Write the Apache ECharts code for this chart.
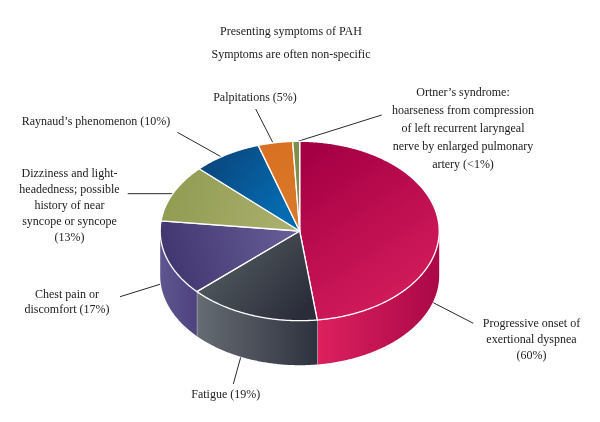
<!DOCTYPE html>
<html>
<head>
<meta charset="utf-8">
<style>html,body{margin:0;padding:0;background:#fff}#c{width:600px;height:422px}</style>
<script src="https://cdn.jsdelivr.net/npm/echarts@6/dist/echarts.min.js"></script>
</head>
<body>
<div id="c"></div>
<script>
const symptoms = [
  "Progressive onset of\nexertional dyspnea\n(60%)",
  "Fatigue (19%)",
  "Chest pain or\ndiscomfort (17%)",
  "Dizziness and light-\nheadedness; possible\nhistory of near\nsyncope or syncope\n(13%)",
  "Raynaud\u2019s phenomenon (10%)",
  "Palpitations (5%)",
  "Ortner\u2019s syndrome:\nhoarseness from compression\nof left recurrent laryngeal\nnerve by enlarged pulmonary\nartery (<1%)"
];
const values = [60, 19, 17, 13, 10, 5, 1];
const titleLines = ["Presenting symptoms of PAH", "Symptoms are often non-specific"];

// Styling and layout, kept apart from the data
const FONT = '12px "Liberation Serif", serif';
const TEXT = '#1e1a1c';
const PIE = {cx: 299.7, cy: 231, rx: 139.5, ry: 89.7, depth: 44.5};
const topFill = [
  [0.15, 0.05, 0.9, 0.95, '#a60044', '#d81f5e'],
  [0.1, 0.1, 0.85, 0.95, '#575f64', '#2a2d39'],
  [0.05, 0.8, 0.95, 0.25, '#40356f', '#675d96'],
  [0, 0.1, 1, 0.7, '#8f9a50', '#abb06e'],
  [0, 0.1, 0.8, 0.8, '#0a4278', '#056bb0'],
  [0, 0, 1, 1, '#d87020', '#db7a2c'],
  [0, 0, 1, 1, '#7f8e4c', '#7f8e4c']
];
const wallFill = [
  [0, 0, 1, 0, '#de205e', '#aa0848'],
  [0, 0, 1, 0, '#666c73', '#2e323e'],
  [0, 0, 1, 0, '#5f568f', '#4d427e']
];
const labelPos = [
  {x: 531.5, y: 324, lh: 15.8},
  {x: 225.7, y: 395, lh: 16},
  {x: 67, y: 295, lh: 15},
  {x: 69.5, y: 174, lh: 16},
  {x: 96, y: 121.7, lh: 16},
  {x: 255, y: 98, lh: 16},
  {x: 463, y: 92.5, lh: 18.2}
];
const leaders = [
  [473.3, 323.3, 433.3, 302.7],
  [233.3, 384, 240.7, 357.3],
  [120, 296.7, 160, 284.3],
  [127.7, 193.7, 173, 193.7],
  [177.3, 132.3, 221, 156.7],
  [255.7, 109, 272.7, 142.3],
  [381.7, 115, 296.7, 141.7]
];

const total = values.reduce((a, b) => a + b, 0);
const starts = [];
values.reduce((acc, v, i) => { starts[i] = acc; return acc + v; }, 0);
const toAngle = v => v / total * Math.PI * 2;
const pt = (t, dy) => [PIE.cx + PIE.rx * Math.sin(t), PIE.cy - PIE.ry * Math.cos(t) + (dy || 0)];
function arc(t0, t1, dy) {
  const n = Math.max(2, Math.ceil(Math.abs(t1 - t0) / 0.01));
  const out = [];
  for (let k = 0; k <= n; k++) out.push(pt(t0 + (t1 - t0) * k / n, dy));
  return out;
}
const grad = g => new echarts.graphic.LinearGradient(g[0], g[1], g[2], g[3],
  [{offset: 0, color: g[4]}, {offset: 1, color: g[5]}]);

function renderWall(params, api) {
  const i = params.dataIndex;
  const t0 = Math.max(toAngle(starts[i]), Math.PI / 2);
  const t1 = Math.min(toAngle(starts[i] + api.value(0)), Math.PI * 1.5);
  if (t1 <= t0) return null;
  const top = arc(t0, t1, 0), bottom = arc(t1, t0, PIE.depth);
  const children = [{
    type: 'polygon', shape: {points: top.concat(bottom)},
    style: {fill: grad(wallFill[i]), stroke: null}
  }];
  if (t1 < Math.PI * 1.5) {
    const a = pt(t1, 0), b = pt(t1, PIE.depth);
    children.push({type: 'line', shape: {x1: a[0], y1: a[1], x2: b[0], y2: b[1]},
      style: {stroke: '#b9bcc8', lineWidth: 1.2}});
  }
  return {type: 'group', children};
}
function renderTop(params, api) {
  const i = params.dataIndex;
  const t0 = toAngle(starts[i]), t1 = toAngle(starts[i] + api.value(0));
  const pts = [[PIE.cx, PIE.cy]].concat(arc(t0, t1, 0));
  return {
    type: 'polygon', shape: {points: pts},
    style: {fill: grad(topFill[i]), stroke: '#fff', lineWidth: 1.3, lineJoin: 'round'}
  };
}
function renderLabel(params) {
  const i = params.dataIndex, p = labelPos[i], l = leaders[i];
  return {type: 'group', children: [
    {type: 'line', shape: {x1: l[0], y1: l[1], x2: l[2], y2: l[3]},
      style: {stroke: '#2a2a2a', lineWidth: 1}},
    {type: 'text', x: p.x, y: p.y - p.lh / 2, style: {
      text: symptoms[i], font: FONT, fill: TEXT, align: 'center',
      verticalAlign: 'top', lineHeight: p.lh}}
  ]};
}
const data = values.map((v, i) => ({name: symptoms[i], value: [v]}));
const chart = echarts.init(document.getElementById('c'), null, {renderer: 'canvas'});
chart.setOption({
  animation: false,
  backgroundColor: '#fff',
  title: titleLines.map((t, i) => ({
    text: t, left: 286, top: [27, 50][i], textAlign: 'center', textVerticalAlign: 'middle',
    textStyle: {fontFamily: '"Liberation Serif", serif', fontSize: 12, fontWeight: 'normal', color: TEXT}
  })),
  tooltip: {show: false},
  series: [
    {type: 'custom', coordinateSystem: 'none', silent: true, z: 2, data, renderItem: renderWall},
    {type: 'custom', coordinateSystem: 'none', silent: true, z: 3, data, renderItem: renderTop},
    {type: 'custom', coordinateSystem: 'none', silent: true, z: 1, data, renderItem: renderLabel}
  ]
});
</script>
</body>
</html>
